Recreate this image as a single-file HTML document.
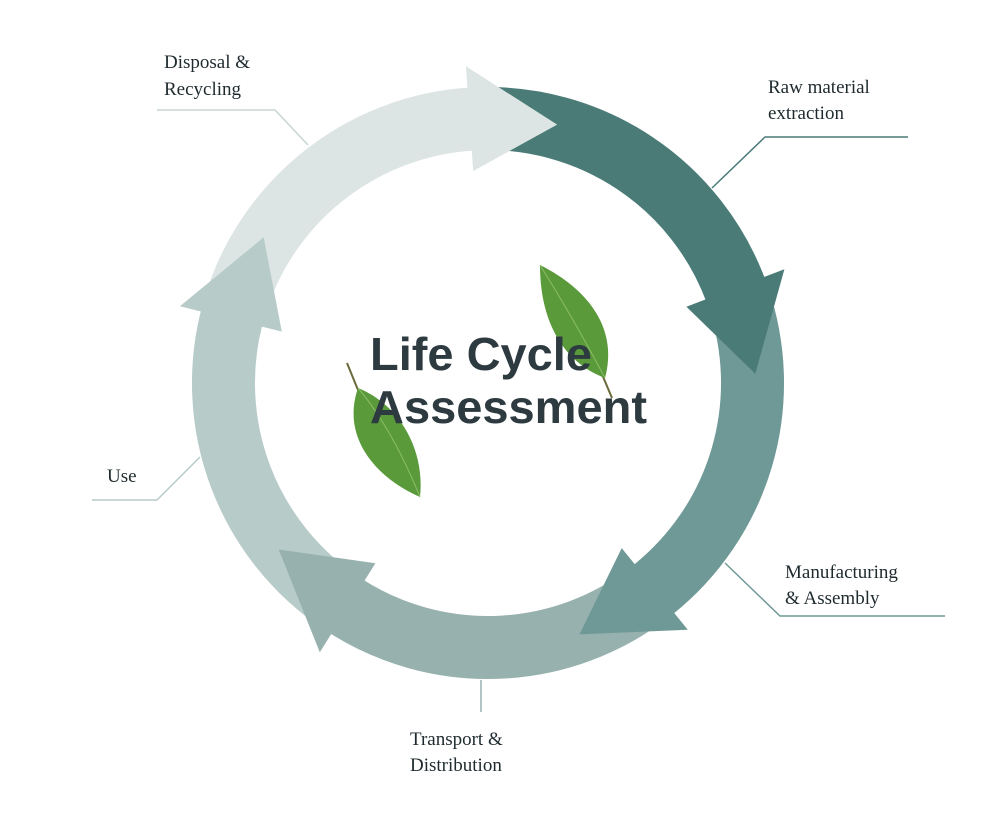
<!DOCTYPE html>
<html><head><meta charset="utf-8"><style>
html,body{margin:0;padding:0;background:#fff;}
svg{display:block}
.lbl{font-family:"Liberation Serif",serif;font-size:19px;fill:#1e2a2e;}
</style></head><body>
<svg id="s" width="987" height="818" viewBox="0 0 987 818" xmlns="http://www.w3.org/2000/svg">
<g id="arr"></g>
<polyline points="157,110 275,110 308,145" fill="none" stroke="#c9d6d4" stroke-width="1.5"/>
<polyline points="712,188 765,137 908,137" fill="none" stroke="#4a7b77" stroke-width="1.5"/>
<polyline points="725,563 780,616 945,616" fill="none" stroke="#6f9996" stroke-width="1.5"/>
<line x1="481" y1="680" x2="481" y2="712" stroke="#97b1af" stroke-width="1.5"/>
<polyline points="92,500 157,500 200,457" fill="none" stroke="#b7cbc9" stroke-width="1.5"/>
<text class="lbl" x="164" y="68">Disposal &amp;</text>
<text class="lbl" x="164" y="95">Recycling</text>
<text class="lbl" x="768" y="93">Raw material</text>
<text class="lbl" x="768" y="119">extraction</text>
<text class="lbl" x="785" y="578">Manufacturing</text>
<text class="lbl" x="785" y="604">&amp; Assembly</text>
<text class="lbl" x="410" y="745">Transport &amp;</text>
<text class="lbl" x="410" y="771">Distribution</text>
<text class="lbl" x="107" y="482">Use</text>
<g>
<line x1="596" y1="360" x2="612" y2="398" stroke="#6b6a3a" stroke-width="2"/>
<path d="M540,265 C590,290 618,330 605,378 C570,365 540,330 540,265 Z" fill="#5a9a3a"/>
<path d="M540,265 C565,305 585,340 605,378" stroke="#8cbd6a" stroke-width="1" fill="none"/>
<line x1="347" y1="363" x2="358" y2="390" stroke="#6b6a3a" stroke-width="2"/>
<path d="M358,388 C400,405 425,450 420,497 C380,480 340,440 358,388 Z" fill="#5a9a3a"/>
<path d="M358,388 C385,420 405,460 420,497" stroke="#8cbd6a" stroke-width="1" fill="none"/>
</g>
<text x="370" y="370" font-family="Liberation Sans,sans-serif" font-weight="bold" font-size="46" fill="#2d3a40" textLength="222" lengthAdjust="spacingAndGlyphs">Life Cycle</text>
<text x="370" y="423" font-family="Liberation Sans,sans-serif" font-weight="bold" font-size="46" fill="#2d3a40" textLength="277" lengthAdjust="spacingAndGlyphs">Assessment</text>
</svg>
<script>
(function(){
var cx=488,cy=383,rm=264.5,w=63,ri=rm-52,ro=rm+53;
function p(r,a){a=a*Math.PI/180;return [(cx+r*Math.cos(a)).toFixed(1),(cy+r*Math.sin(a)).toFixed(1)];}
var arrows=[
 {c:"#dce5e3",a1:196,a2:266,t:285},
 {c:"#4a7b77",a1:-92,a2:-21,t:-2},
 {c:"#6f9996",a1:-19,a2:51,t:70},
 {c:"#97b1af",a1:53,a2:122,t:141.5},
 {c:"#b7cbc9",a1:124,a2:194,t:213}
];
var bodies="",heads="";
arrows.forEach(function(o){
 var s=p(rm,o.a1),e=p(rm,o.a2+0.5);
 var large=(o.a2-o.a1)>180?1:0;
 bodies+='<path d="M'+s+' A'+rm+','+rm+' 0 '+large+' 1 '+e+'" fill="none" stroke="'+o.c+'" stroke-width="'+w+'"/>';
 var b1=p(ri,o.a2),b2=p(ro,o.a2),t=p(rm+3,o.t);
 heads+='<polygon points="'+b1+' '+b2+' '+t+'" fill="'+o.c+'"/>';
});
document.getElementById("arr").innerHTML=bodies+heads;
})();
</script>
</body></html>
